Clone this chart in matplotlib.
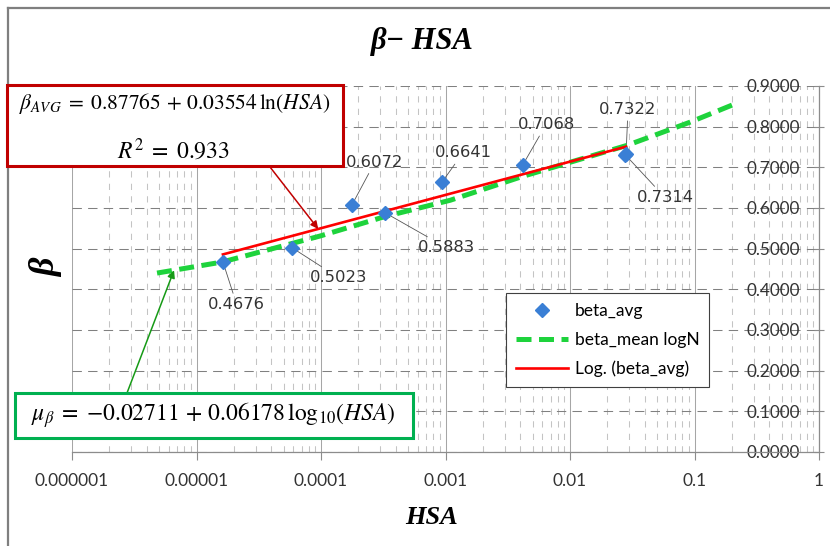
import matplotlib
matplotlib.use("Agg")
import matplotlib.pyplot as plt
import numpy as np
from matplotlib.ticker import FixedLocator, FixedFormatter, LogLocator, NullFormatter
from matplotlib.patches import Rectangle
from matplotlib.lines import Line2D

# ---------------- data ----------------
hsa = [1.63e-5, 5.85e-5, 1.77e-4, 3.27e-4, 9.4e-4, 4.19e-3, 0.0282, 0.0277]
beta_avg = [0.4676, 0.5023, 0.6072, 0.5883, 0.6641, 0.7068, 0.7322, 0.7314]

mean_hsa = [4.82e-6, 1.60e-5, 9.8e-5, 3.27e-4, 1.09e-3, 4.19e-3, 0.0287, 0.092, 0.2]
beta_mean = [0.440, 0.467, 0.531, 0.579, 0.619, 0.678, 0.754, 0.811, 0.853]

fit_a, fit_b = 0.87765, 0.03554   # beta_AVG = a + b ln(HSA)

x_ticks = [1e-6, 1e-5, 1e-4, 1e-3, 1e-2, 1e-1, 1]
x_tick_labels = ["0.000001", "0.00001", "0.0001", "0.001", "0.01", "0.1", "1"]
y_ticks = [0.0, 0.1, 0.2, 0.3, 0.4, 0.5, 0.6, 0.7, 0.8, 0.9]
y_tick_labels = [f"{v:.4f}" for v in y_ticks]

title_text = "β− HSA"
x_label = "HSA"
y_label = "β"
legend_labels = ["beta_avg", "beta_mean logN", "Log. (beta_avg)"]
eq_red_1 = r"$\beta_{AVG}\; = \;0.87765 \,+\, 0.03554\,\ln\!\left(HSA\right)$"
eq_red_2 = r"$R^2 \;=\; 0.933$"
eq_green = r"$\mu_{\beta} \;=\; {-}0.02711 \,+\, 0.06178\,\log_{10}\!\left(HSA\right)$"

# label offsets (points) and alignment -- style only
label_offsets = [(10, -31), (13, -21.6), (16.6, 31), (23.8, -25.2),
                 (15, 21), (16.6, 28.8), (1.4, 32.4), (28.8, -31)]
label_ha = ["center", "left", "center", "left", "center", "center", "center", "center"]

plt.rcParams["mathtext.fontset"] = "stix"

# ---------------- figure ----------------
W, H = 830, 546
fig = plt.figure(figsize=(W / 100, H / 100), dpi=100)
fig.patch.set_facecolor("white")

def fx(px):
    return px / W

def fy(py):
    return 1 - py / H

ax = fig.add_axes([fx(72), fy(452), fx(819) - fx(72), fy(86) - fy(452)])
ax.set_xscale("log")
ax.set_xlim(1e-6, 1)
ax.set_ylim(0, 0.9)
ax.set_axisbelow(True)

# grid
ax.xaxis.set_major_locator(FixedLocator(x_ticks))
ax.xaxis.set_major_formatter(FixedFormatter(x_tick_labels))
ax.xaxis.set_minor_locator(LogLocator(base=10, subs=np.arange(2, 10), numticks=20))
ax.xaxis.set_minor_formatter(NullFormatter())
ax.yaxis.set_major_locator(FixedLocator(y_ticks))
ax.yaxis.set_major_formatter(FixedFormatter(y_tick_labels))

ax.grid(which="major", axis="x", color="#a6a6a6", lw=0.75, ls="-")
ax.grid(which="minor", axis="x", color="#c4c4c4", lw=0.75, ls=(0, (6, 6)))
ax.grid(which="major", axis="y", color="#808080", lw=0.75, ls=(0, (9, 6)))

for s in ["top", "left"]:
    ax.spines[s].set_visible(False)
for s in ["bottom", "right"]:
    ax.spines[s].set_color("#8c8c8c")
    ax.spines[s].set_linewidth(0.9)

ax.yaxis.set_ticks_position("right")
ax.tick_params(axis="y", which="major", direction="inout", length=7, width=0.8,
               color="#8c8c8c", labelsize=12.3, labelcolor="#333333", pad=-17)
for lbl in ax.get_yticklabels():
    lbl.set_horizontalalignment("right")
    lbl.set_family("Lato")
ax.tick_params(axis="x", which="major", direction="out", length=6, width=0.8,
               color="#8c8c8c", labelsize=12.5, labelcolor="#333333", pad=9)
ax.tick_params(axis="x", which="minor", length=0)
for lbl in ax.get_xticklabels():
    lbl.set_family("Lato")

# series
fit_x = np.array([min(hsa), max(hsa)])
fit_y = fit_a + fit_b * np.log(fit_x)
ax.plot(mean_hsa, beta_mean, color="#1ed33c", lw=3.6, ls=(0, (3, 1.5)),
        solid_capstyle="butt", dash_capstyle="butt", zorder=3, label=legend_labels[1])
ax.plot(fit_x, fit_y, color="#ff0000", lw=1.9, zorder=4, label=legend_labels[2])
ax.plot(hsa, beta_avg, ls="none", marker="D", markersize=7.6, color="#3a7fd5",
        markeredgecolor="#3a7fd5", zorder=5, label=legend_labels[0])

# data labels
for xv, yv, off, ha in zip(hsa, beta_avg, label_offsets, label_ha):
    ax.annotate(f"{yv:.4f}", xy=(xv, yv), xytext=off, textcoords="offset points",
                ha=ha, va="center", fontsize=11.8, color="#333333",
                family="DejaVu Sans", zorder=2,
                arrowprops=dict(arrowstyle="-", color="#555555", lw=0.6,
                                shrinkA=1, shrinkB=0))

# legend
handles, labs = ax.get_legend_handles_labels()
order = [2, 0, 1]
leg = ax.legend([handles[i] for i in order], [labs[i] for i in order],
                loc="upper left", bbox_to_anchor=(0.581, 0.434), borderaxespad=0,
                frameon=True, fancybox=False, edgecolor="#404040", framealpha=1,
                prop={"family": "Lato", "size": 12.5}, handlelength=3.0,
                handletextpad=0.4, labelspacing=0.75, borderpad=0.55)
leg.get_frame().set_linewidth(0.8)
leg.set_zorder(6)

# arrows pointing to curves
red_target_x = 9.5e-5
ax.annotate("", xy=(red_target_x, fit_a + fit_b * np.log(red_target_x)),
            xytext=(270, H - 167), textcoords="figure pixels",
            arrowprops=dict(arrowstyle="-|>", color="#c00000", lw=1.1,
                            mutation_scale=11, shrinkA=0, shrinkB=0), zorder=6)
green_target_x, green_target_y = 6.6e-6, 0.447
ax.annotate("", xy=(green_target_x, green_target_y),
            xytext=(127, H - 393), textcoords="figure pixels",
            arrowprops=dict(arrowstyle="-|>", color="#169a16", lw=1.1,
                            mutation_scale=11, shrinkA=0, shrinkB=0), zorder=6)

# outer frame
fig.add_artist(Line2D([fx(8), fx(8)], [0, fy(8)], color="#7f7f7f", lw=1.6,
                      transform=fig.transFigure))
fig.add_artist(Line2D([fx(8), 1], [fy(8), fy(8)], color="#7f7f7f", lw=1.6,
                      transform=fig.transFigure))

# title and axis labels
fig.text(fx(422), fy(42), title_text, ha="center", va="center",
         family="Liberation Serif", style="italic", weight="bold", fontsize=22)
fig.text(fx(432), fy(517), x_label, ha="center", va="center",
         family="Liberation Serif", style="italic", weight="bold", fontsize=19)
fig.text(fx(47), fy(268), y_label, ha="center", va="center", rotation=90,
         family="Liberation Serif", style="italic", weight="bold", fontsize=26)

# equation boxes
red_box = Rectangle((fx(7), fy(166)), fx(343) - fx(7), fy(85) - fy(166),
                    transform=fig.transFigure, facecolor="white",
                    edgecolor="#c00000", lw=2.2, zorder=5)
fig.add_artist(red_box)
fig.text(fx(175), fy(104), eq_red_1, ha="center", va="center", fontsize=15.5,
         zorder=6)
fig.text(fx(173), fy(151), eq_red_2, ha="center", va="center", fontsize=17,
         zorder=6)

green_box = Rectangle((fx(15), fy(438)), fx(413) - fx(15), fy(393) - fy(438),
                      transform=fig.transFigure, facecolor="white",
                      edgecolor="#00b050", lw=2.2, zorder=5)
fig.add_artist(green_box)
fig.text(fx(213), fy(415), eq_green, ha="center", va="center", fontsize=17,
         zorder=6)

fig.savefig("out.png", dpi=100)
